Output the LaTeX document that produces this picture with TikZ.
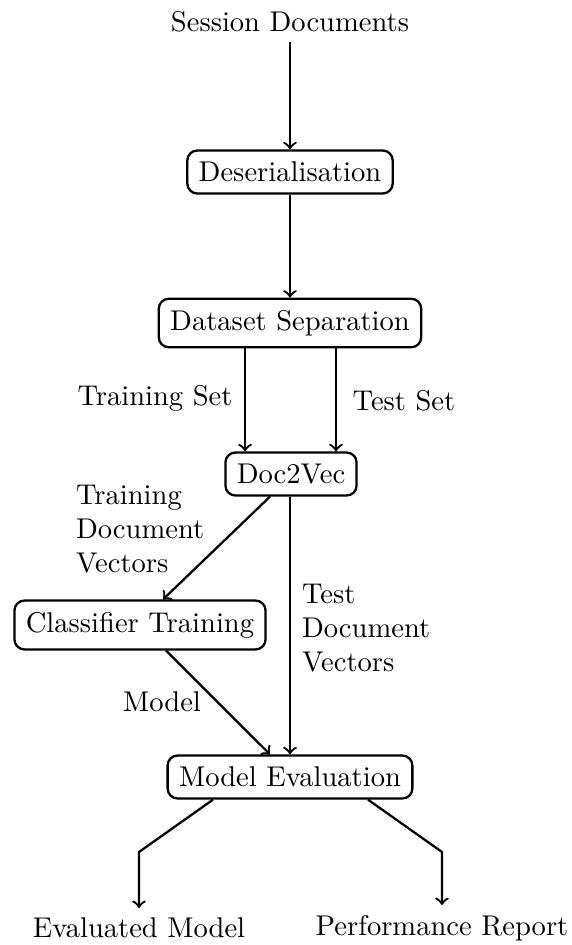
\documentclass[tikz,border=0pt]{standalone}
\usetikzlibrary{calc}
\begin{document}
\begin{tikzpicture}[x=0.35pt,y=-0.35pt,
  procbox/.style={draw,thick,rounded corners=3.5pt,inner sep=4pt},
  plain/.style={inner sep=3.33pt},
  flow/.style={thick,->}]
\useasboundingbox (0,0) rectangle (571,945);

% processing stages
\node[plain] (src) at (290,22) {Session Documents};
\node[procbox] (deser) at (290,172) {Deserialisation};
\node[procbox] (dsep) at (290,323) {Dataset Separation};
\node[procbox] (d2v) at (291,474) {Doc2Vec};
\node[procbox] (clf) at (140,625) {Classifier Training};
\node[procbox] (meval) at (290,777) {Model Evaluation};
\node[plain,anchor=north] (emod) at (139,908) {Evaluated Model};
\node[plain,anchor=north] (prep) at (442,905) {Performance Report};

% edge labels
\node[plain] (ltrain) at (155,398) {Training Set};
\node[plain] (ltest) at (404,401) {Test Set};
\node[plain,anchor=west,align=left] (ltrvec) at (66,529) {Training\\Document\\Vectors};
\node[plain,anchor=west,align=left] (ltevec) at (292,628) {Test\\Document\\Vectors};
\node[plain] (lmodel) at (162,702) {Model};

% helper columns for the connectors
\coordinate (ctr) at (245,0);
\coordinate (cte) at (336,0);
\coordinate (cdiag) at (270,0);
\coordinate (cclf) at (163,0);
\coordinate (cmod) at (166,0);
\coordinate (cin) at (270,0);
\coordinate (ctv) at (290,0);
\coordinate (cel) at (213,0);
\coordinate (cer) at (368,0);
\coordinate (kl) at (139,852);
\coordinate (kr) at (442,852);

% connectors
\draw[flow] (src) -- (deser);
\draw[flow] (deser) -- (dsep);
\draw[flow] (dsep.south -| ctr) -- (d2v.north -| ctr);
\draw[flow] (dsep.south -| cte) -- (d2v.north -| cte);
\draw[flow] (d2v.south -| cdiag) -- (clf.north -| cclf);
\draw[flow] (d2v.south -| ctv) -- (meval.north -| ctv);
\draw[flow] (clf.south -| cmod) -- (meval.north -| cin);
\draw[flow] (meval.south -| cel) -- (kl) -- (emod.north);
\draw[flow] (meval.south -| cer) -- (kr) -- (prep.north);
\end{tikzpicture}
\end{document}
